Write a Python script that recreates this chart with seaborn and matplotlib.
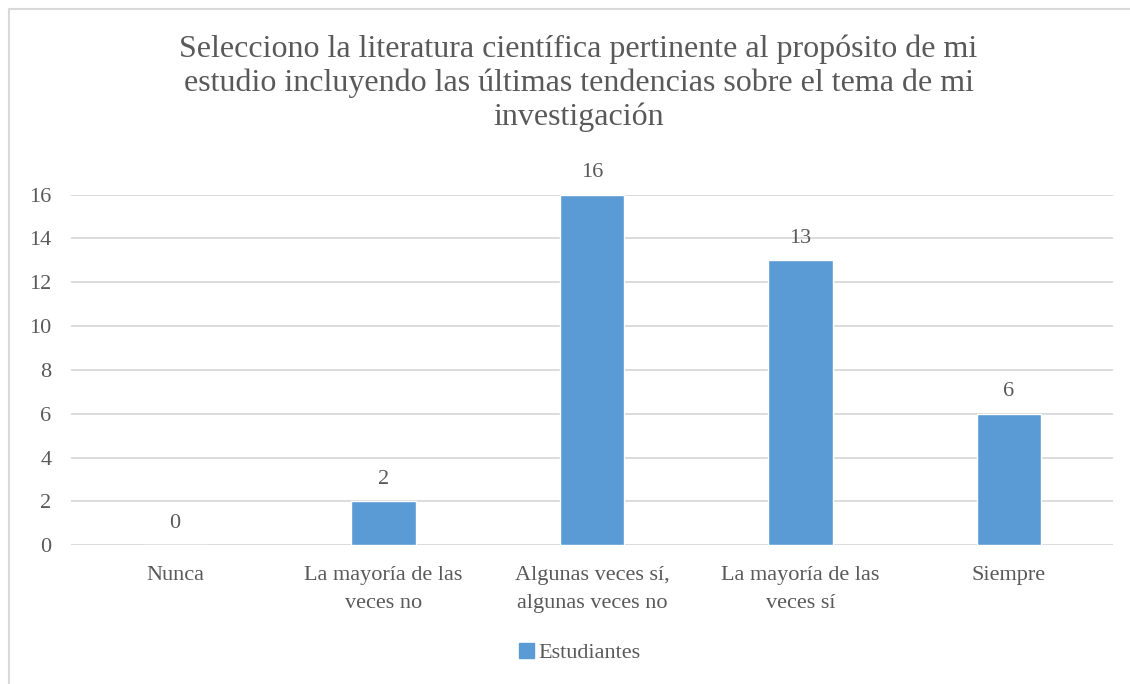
import matplotlib
matplotlib.use("Agg")
import matplotlib.pyplot as plt
from matplotlib.lines import Line2D
import pandas as pd
import seaborn as sns

# ── Data ─────────────────────────────────────────────────────────────────────
TITLE = ("Selecciono la literatura científica pertinente al propósito de mi\n"
         "estudio incluyendo las últimas tendencias sobre el tema de mi\n"
         "investigación")
categories = ["Nunca", "La mayoría de las\nveces no", "Algunas veces sí,\nalgunas veces no",
              "La mayoría de las\nveces sí", "Siempre"]
estudiantes = [0, 2, 16, 13, 6]
series_name = "Estudiantes"
y_ticks = [0, 2, 4, 6, 8, 10, 12, 14, 16]

# ── Style ────────────────────────────────────────────────────────────────────
BAR = "#5B9BD5"
TEXT = "#595959"
GRID = "#D9D9D9"

sns.set_theme(style="white")
plt.rcParams["font.family"] = ["Liberation Serif", "DejaVu Serif"]

df = pd.DataFrame({"categoria": categories, "valor": estudiantes, "serie": series_name})

fig = plt.figure(figsize=(11.3, 6.84), dpi=100)
ax = fig.add_axes([0.0628, 0.2028, 0.9222, 0.5126])

sns.barplot(data=df, x="categoria", y="valor", hue="serie", palette=[BAR],
            saturation=1, width=0.31, dodge=False, ax=ax, zorder=3)

ax.set_ylim(0, 16)
ax.set_yticks(y_ticks)
ax.yaxis.grid(True, color=GRID, linewidth=1.3, zorder=0)
ax.set_axisbelow(True)
for s in ax.spines.values():
    s.set_visible(False)
ax.set_xlabel("")
ax.set_ylabel("")
ax.tick_params(axis="y", length=0, pad=14, labelsize=16, labelcolor=TEXT)
ax.tick_params(axis="x", length=0, pad=15, labelsize=16, labelcolor=TEXT)
for lab in ax.get_xticklabels():
    lab.set_linespacing(1.6)

for cont in ax.containers:
    ax.bar_label(cont, labels=[str(v) for v in estudiantes], padding=9,
                 fontsize=16, color=TEXT)

fig.text(0.512, 0.949, TITLE, ha="center", va="top", fontsize=23,
         color=TEXT, linespacing=1.2)

ax.legend_.remove()
handle = plt.Rectangle((0, 0), 1, 1, color=BAR)
fig.legend([handle], [series_name], loc="center", bbox_to_anchor=(0.513, 0.045),
           frameon=False, fontsize=16, handlelength=0.65, handleheight=0.65,
           handletextpad=0.2, labelcolor=TEXT)

# chart-area border (top and left edges visible)
fig.add_artist(Line2D([8.5 / 1130, 8.5 / 1130], [0, 1 - 9 / 684],
                      transform=fig.transFigure, color=GRID, linewidth=1.5))
fig.add_artist(Line2D([8.5 / 1130, 1], [1 - 9 / 684, 1 - 9 / 684],
                      transform=fig.transFigure, color=GRID, linewidth=1.5))

fig.savefig("out.png", dpi=100)
